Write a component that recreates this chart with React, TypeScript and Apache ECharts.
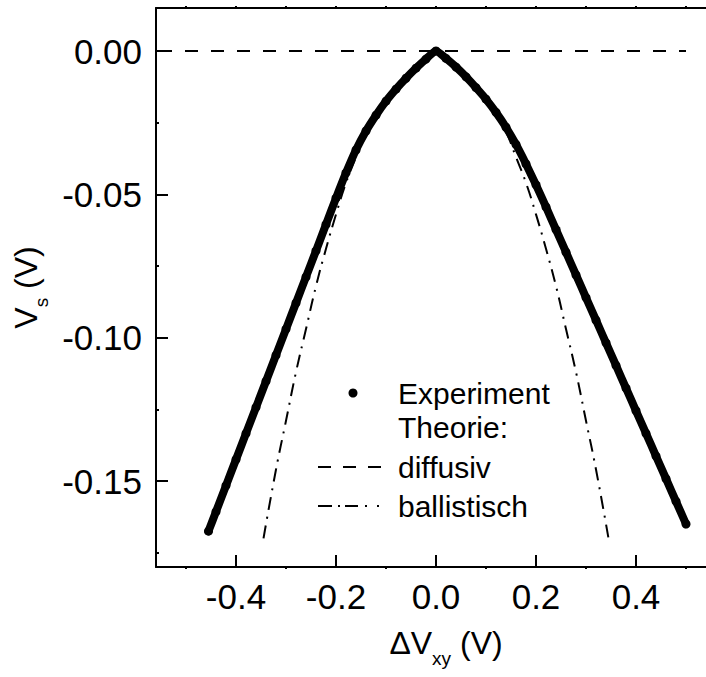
import React, { useEffect, useRef } from "react";
import * as echarts from "echarts";

const experimentX = [
  -0.455, -0.44, -0.42, -0.40, -0.38, -0.36, -0.34, -0.32, -0.30, -0.28, -0.26, -0.24,
  -0.22, -0.20, -0.18, -0.16, -0.14, -0.12, -0.10, -0.08, -0.06, -0.04, -0.02, 0,
  0.02, 0.04, 0.06, 0.08, 0.10, 0.12, 0.14, 0.16, 0.18, 0.20, 0.22, 0.24, 0.26, 0.28,
  0.30, 0.32, 0.34, 0.36, 0.38, 0.40, 0.42, 0.44, 0.46, 0.48, 0.50,
];
const experimentY = [
  -0.1675, -0.1607, -0.1516, -0.1425, -0.1334, -0.1243, -0.1152, -0.1061, -0.0970, -0.0879, -0.0788, -0.0697,
  -0.0605, -0.0513, -0.0425, -0.0345, -0.0279, -0.0224, -0.0175, -0.0133, -0.0095, -0.0060, -0.0028, 0,
  -0.0026, -0.0056, -0.0090, -0.0128, -0.0168, -0.0214, -0.0266, -0.0326, -0.0394, -0.0467, -0.0544, -0.0623, -0.0702, -0.0781,
  -0.0860, -0.0939, -0.1018, -0.1097, -0.1176, -0.1255, -0.1334, -0.1413, -0.1492, -0.1571, -0.1650,
];

// Theory: diffusive
const diffusivX = [-0.56, 0.5];
const diffusivY = [0, 0];

// Theory: ballistic
const ballistischX = [
  -0.345, -0.32, -0.30, -0.28, -0.26, -0.24, -0.22, -0.20, -0.18, -0.16, -0.14, -0.12, -0.10, -0.08, -0.06, -0.04, -0.02, 0,
  0.02, 0.04, 0.06, 0.08, 0.10, 0.12, 0.14, 0.16, 0.18, 0.20, 0.22, 0.24, 0.26, 0.28, 0.30, 0.32, 0.345,
];
const ballistischY = [
  -0.170, -0.146, -0.129, -0.112, -0.097, -0.082, -0.069, -0.057, -0.046, -0.037, -0.028, -0.0212, -0.0162, -0.0122, -0.0085, -0.0050, -0.0020, 0,
  -0.0020, -0.0050, -0.0085, -0.0122, -0.0162, -0.0212, -0.028, -0.037, -0.046, -0.057, -0.069, -0.082, -0.097, -0.112, -0.129, -0.146, -0.170,
];

// Axis ticks and labels
const xMajor = [-0.4, -0.2, 0, 0.2, 0.4];
const xMinor = [-0.5, -0.3, -0.1, 0.1, 0.3, 0.5];
const xTop = [-0.5, -0.4, -0.3, -0.2, -0.1, 0, 0.1, 0.2, 0.3, 0.4, 0.5];
const yMajor = [0, -0.05, -0.1, -0.15];
const yMinor = [-0.025, -0.075, -0.125, -0.175];

const legendLabels = ["Experiment", "Theorie:", "diffusiv", "ballistisch"];

const FONT = "'Liberation Sans', Arial, Helvetica, sans-serif";

function zip(xs: number[], ys: number[]) {
  return xs.map((x, i) => [x, ys[i]]);
}

export default function App() {
  const ref = useRef<HTMLDivElement>(null);
  useEffect(() => {
    if (!ref.current) return;
    const chart = echarts.init(ref.current, null, { renderer: "svg" });
    const black = "#000";
    const hiddenAxis = {
      axisLine: { show: false, onZero: false },
      axisLabel: { show: false },
      splitLine: { show: false },
    };
    const xCommon = { type: "value", min: -0.56, max: 0.6, splitLine: { show: false } };
    const yCommon = { type: "value", min: -0.18, max: 0.015, splitLine: { show: false } };
    const lineOn = { show: true, onZero: false, lineStyle: { color: black, width: 2 } };
    const subRich = {
      sub: { fontSize: 19, fontFamily: FONT, color: black, lineHeight: 19, padding: [22, 0, 0, 0], verticalAlign: "top" },
    };

    const legendX = 398;
    const legendYs = [393, 427, 467, 506];

    chart.setOption({
      animation: false,
      backgroundColor: "#fff",
      grid: { left: 156, top: 8, right: -30, bottom: 110, outerBoundsMode: "none", containLabel: false },
      xAxis: [
        {
          ...xCommon,
          position: "bottom",
          axisLine: lineOn,
          axisTick: { show: true, inside: true, length: 12, lineStyle: { color: black, width: 2 }, customValues: xMajor },
          axisLabel: {
            show: true, customValues: xMajor, margin: 12, color: black, fontSize: 35, fontFamily: FONT,
            formatter: (v: number) => v.toFixed(1),
          },
          name: "ΔV{sub|xy} (V)",
          nameLocation: "middle",
          nameGap: 60,
          nameTextStyle: { color: black, fontSize: 32, fontFamily: FONT, lineHeight: 31, rich: subRich },
        },
        {
          ...xCommon,
          ...hiddenAxis,
          position: "bottom",
          axisTick: { show: true, inside: false, length: 2, lineStyle: { color: black, width: 2 }, customValues: xMinor },
        },
        {
          ...xCommon,
          position: "top",
          axisLine: lineOn,
          axisTick: { show: true, inside: false, length: 2, lineStyle: { color: black, width: 2 }, customValues: xTop },
          axisLabel: { show: false },
        },
      ],
      yAxis: [
        {
          ...yCommon,
          position: "left",
          axisLine: lineOn,
          axisTick: { show: true, inside: true, length: 12, lineStyle: { color: black, width: 2 }, customValues: yMajor },
          axisLabel: {
            show: true, customValues: yMajor, margin: 14, color: black, fontSize: 35, fontFamily: FONT,
            formatter: (v: number) => v.toFixed(2),
          },
          name: "V{sub|s} (V)",
          nameLocation: "middle",
          nameRotate: 90,
          nameGap: 106,
          nameTextStyle: { color: black, fontSize: 32, fontFamily: FONT, lineHeight: 31, rich: subRich },
        },
        {
          ...yCommon,
          ...hiddenAxis,
          position: "left",
          axisTick: { show: true, inside: true, length: 3, lineStyle: { color: black, width: 2 }, customValues: yMinor },
        },
      ],
      series: [
        {
          name: "diffusiv",
          type: "line",
          data: zip(diffusivX, diffusivY),
          showSymbol: false,
          symbol: "none",
          lineStyle: { color: black, width: 2, type: [13, 13], dashOffset: -3 },
          z: 2,
        },
        {
          name: "ballistisch",
          type: "line",
          data: zip(ballistischX, ballistischY),
          showSymbol: false,
          symbol: "none",
          smooth: true,
          lineStyle: { color: black, width: 2, type: [13, 7, 2, 7] },
          z: 2,
        },
        {
          name: "Experiment",
          type: "line",
          data: zip(experimentX, experimentY),
          symbol: "circle",
          symbolSize: 9,
          showSymbol: true,
          smooth: 0.2,
          itemStyle: { color: black },
          lineStyle: { color: black, width: 8, cap: "round", join: "round" },
          z: 3,
        },
      ],
      graphic: [
        { type: "circle", shape: { cx: 353, cy: 393, r: 4.5 }, style: { fill: black } },
        ...legendLabels.map((t, i) => ({
          type: "text",
          style: {
            text: t, x: legendX, y: legendYs[i], fill: black, fontSize: 30, lineHeight: 30,
            fontFamily: FONT, verticalAlign: "middle", align: "left",
          },
        })),
        // dashed legend sample
        ...[[318, 331], [343, 356], [368, 381]].map(([a, b]) => ({
          type: "line", shape: { x1: a, y1: 467, x2: b, y2: 467 }, style: { stroke: black, lineWidth: 2 },
        })),
        // dash-dot legend sample
        ...[[318, 332], [338, 340], [345, 358], [365, 367], [377, 379]].map(([a, b]) => ({
          type: "line", shape: { x1: a, y1: 506, x2: b, y2: 506 }, style: { stroke: black, lineWidth: 2 },
        })),
      ],
    });
    return () => chart.dispose();
  }, []);
  return <div ref={ref} style={{ position: "absolute", left: 0, top: 0, width: 706, height: 677 }} />;
}
